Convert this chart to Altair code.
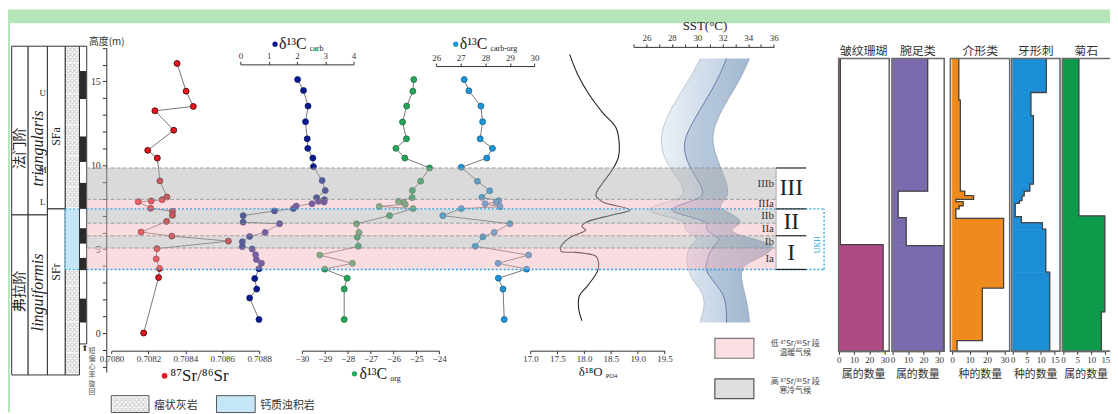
import altair as alt
import pandas as pd

W, H = 1110, 406
Y_DOM = [-2.33, 17.0]
Y_RNG = [365.3, 38.7]
SERIF = "Liberation Serif"
CJK = "Noto Sans CJK SC"
GREEN = "#b5e5b8"

# ---------------- data ----------------
sr_h = [16.07, 14.42, 13.51, 13.25, 12.09, 10.89, 10.43, 9.07, 8.11, 7.95, 7.87, 7.83, 7.44, 7.26,
        7.02, 6.65, 6.02, 5.78, 5.48, 5.03, 4.42, 3.85, 3.31, 0.0]
sr_v = [0.708355, 0.708404, 0.708443, 0.708235, 0.708337, 0.708196, 0.708248, 0.708262, 0.708300,
        0.708274, 0.708215, 0.708145, 0.708212, 0.708330, 0.708330, 0.708298, 0.708160, 0.708327,
        0.708633, 0.708246, 0.708242, 0.708260, 0.708255, 0.708174]

carb_h = [15.11, 14.46, 13.53, 12.60, 11.58, 11.01, 10.43, 9.92, 9.09, 8.50, 8.07, 7.95, 7.85, 7.81,
          7.71, 7.57, 7.42, 7.28, 7.00, 6.61, 6.51, 6.00, 5.76, 5.44, 5.15, 5.01, 4.67, 4.38, 4.16,
          3.83, 3.25, 2.62, 2.09, 0.81]
carb_v = [2.02, 2.23, 2.39, 2.30, 2.36, 2.38, 2.56, 2.58, 2.89, 3.00, 2.69, 2.97, 2.76, 2.96, 2.53,
          1.97, 1.87, 1.20, 0.09, 0.09, 1.38, 0.87, 0.32, 0.06, 0.06, 0.41, 0.53, 0.56, 0.74, 0.65,
          0.50, 0.57, 0.32, 0.65]

org_h = [15.11, 14.42, 13.53, 12.58, 11.58, 11.01, 10.43, 9.84, 9.05, 8.50, 8.07, 7.85, 7.79, 7.67,
         7.55, 7.42, 7.00, 6.51, 6.00, 5.72, 5.17, 4.65, 4.16, 3.81, 3.27, 2.62, 0.81]
org_v = [-25.11, -25.15, -25.42, -25.60, -25.43, -25.89, -25.50, -24.42, -24.81, -25.17, -25.18,
         -25.78, -25.55, -25.48, -26.62, -25.14, -26.17, -27.61, -27.50, -27.58, -27.53, -29.22,
         -27.79, -29.00, -28.02, -28.15, -28.15]

co_h = [15.11, 14.44, 13.53, 12.60, 11.58, 11.01, 10.43, 9.88, 9.05, 8.48, 8.09, 7.89, 7.81, 7.71,
        7.53, 7.42, 7.00, 6.51, 6.00, 5.74, 5.17, 4.65, 4.16, 3.81, 3.27, 2.62, 0.81]
co_v = [27.14, 27.33, 27.82, 27.89, 27.79, 28.29, 28.06, 27.02, 27.68, 28.18, 27.86, 28.55, 28.44,
        27.99, 28.60, 27.02, 26.27, 29.00, 28.36, 27.90, 27.59, 29.76, 28.52, 29.68, 28.53, 28.72, 28.77]

o18_h = [16.61, 15.42, 14.24, 13.16, 12.27, 11.48, 10.49, 9.70, 8.92, 8.22, 7.83, 7.34, 7.04, 6.59,
         6.35, 6.15, 5.66, 5.17, 4.87, 4.81, 4.58, 4.18, 3.69, 2.80, 2.21, 1.42, 0.73]
o18_v = [17.73, 17.88, 18.09, 18.34, 18.59, 18.65, 18.64, 18.52, 18.34, 18.22, 18.34, 18.86, 18.52,
         18.03, 17.96, 18.03, 17.72, 17.57, 17.57, 17.85, 18.22, 18.27, 18.25, 18.06, 17.91, 17.90, 17.96]

sst_h = [16.37, 15.03, 13.65, 12.47, 11.48, 10.49, 9.70, 8.92, 8.22, 7.93, 7.55, 7.30, 7.00, 6.75,
         6.50, 6.20, 5.90, 5.60, 5.30, 5.00, 4.60, 4.20, 3.80, 3.20, 2.40, 1.60, 0.63]
sst_l = [30.26, 29.30, 28.13, 27.35, 27.09, 27.35, 28.00, 28.78, 29.04, 28.26, 26.44, 26.05, 27.22,
         28.78, 29.04, 28.91, 29.56, 30.08, 29.56, 29.30, 29.17, 29.17, 29.30, 29.56, 30.47, 30.60, 30.21]
sst_m = [32.29, 31.58, 30.47, 29.56, 28.91, 29.04, 29.56, 30.21, 30.60, 29.82, 28.26, 27.74, 29.04,
         30.34, 30.86, 30.60, 31.12, 31.90, 31.38, 31.12, 30.86, 30.73, 30.60, 31.12, 32.03, 32.29, 32.29]
sst_r = [34.10, 33.32, 32.16, 31.38, 31.12, 31.51, 31.90, 32.36, 32.42, 32.16, 31.64, 32.16, 32.94,
         33.32, 33.45, 32.55, 32.94, 34.49, 35.92, 35.92, 35.27, 33.97, 33.45, 33.45, 33.71, 33.97, 34.10]

band_lo = [3.79, 5.07, 5.80, 6.55, 7.40, 7.97]
band_hi = [5.07, 5.80, 6.55, 7.40, 7.97, 9.84]
band_kind = ["warm", "cold", "warm", "cold", "warm", "cold"]
band_name = ["Ia", "Ib", "IIa", "IIb", "IIIa", "IIIb"]
stage_lo = [3.79, 5.80, 7.40]
stage_hi = [5.80, 7.40, 9.84]
stage_name = ["I", "II", "III"]

strat_top, strat_bot = 17.1, -2.5
stage_break, zone_break = 7.04, 7.40
cycle_bot = -0.65
cycle_black_top = [15.62, 11.72, 8.95, 6.25, 4.48, 2.05]
cycle_black_bot = [13.95, 10.20, 7.40, 5.33, 3.75, 0.63]
turbidite = [3.79, 7.40]

fossil_names = ["皱纹珊瑚", "腕足类", "介形类", "牙形刺", "菊石"]
fossil_units = ["属的数量", "属的数量", "种的数量", "种的数量", "属的数量"]
coral_edges = [16.37, 5.27, -1.08]
coral_v = [1.1, 29.0]
brach_edges = [16.37, 8.46, 6.88, 5.21, -1.08]
brach_v = [22.7, 3.6, 8.8, 33.0]
ostra_edges = [16.37, 13.89, 8.46, 8.19, 7.97, 7.83, 7.59, 7.40, 6.84, 2.68, -0.45, -1.08]
ostra_v = [3.8, 4.7, 7.2, 12.3, 2.1, 6.3, 4.0, 2.1, 29.5, 17.3, 2.8]
conod_edges = [16.37, 14.34, 12.96, 8.88, 8.46, 8.18, 7.89, 7.73, 6.94, 6.58, 6.19, 3.63, -1.08]
conod_v = [12.0, 6.5, 7.4, 6.1, 4.1, 3.3, 2.4, 0.9, 3.1, 10.6, 11.8, 13.2]
ammon_edges = [16.37, 6.98, 1.26, -1.08]
ammon_v = [5.6, 14.8, 13.6]

# ---------------- helpers ----------------
ONE = pd.DataFrame({"a": [0]})
layers = []


def ysc():
    return alt.Scale(domain=Y_DOM, range=Y_RNG, nice=False, zero=False)


def Y(field, axis=None):
    return alt.Y(field, type="quantitative", scale=ysc(), axis=axis)


def X(field, dom, rng, axis=None):
    return alt.X(field, type="quantitative",
                 scale=alt.Scale(domain=dom, range=rng, nice=False, zero=False), axis=axis)


def xaxis(orient, offset, values, fmt=None, expr=None, size=9):
    kw = dict(orient=orient, offset=offset, values=values, title=None, grid=False,
              domainColor="#333", tickColor="#333", labelColor="#333", labelFont=SERIF,
              labelFontSize=size, tickSize=3, labelPadding=1, labelFlush=False, labelOverlap=False)
    if fmt:
        kw["format"] = fmt
    if expr:
        kw["labelExpr"] = expr
    return alt.Axis(**kw)


def prect(x1, x2, y1, y2, **mk):
    return alt.Chart(ONE).mark_rect(**mk).encode(
        x=alt.value(x1), x2=alt.value(x2), y=alt.value(y1), y2=alt.value(y2))


def hrect(x1, x2, top, bot, **mk):
    df = pd.DataFrame({"top": [top], "bot": [bot]})
    return alt.Chart(df).mark_rect(**mk).encode(
        x=alt.value(x1), x2=alt.value(x2), y=Y("top"), y2=alt.Y2("bot"))


def txt(s, x, y, size=10, font=SERIF, color="#222", align="center", baseline="middle",
        angle=None, style=None, lh=None):
    kw = dict(text=s, fontSize=size, font=font, color=color, align=align, baseline=baseline)
    if angle is not None:
        kw["angle"] = angle
    if style:
        kw["fontStyle"] = style
    if lh:
        kw["lineHeight"] = lh
        kw["lineBreak"] = "\n"
    return alt.Chart(ONE).mark_text(**kw).encode(x=alt.value(x), y=alt.value(y))


def dot(x, y, color, size=28):
    return alt.Chart(ONE).mark_circle(size=size, color=color, opacity=1).encode(
        x=alt.value(x), y=alt.value(y))


# ---------------- background frame ----------------
layers.append(prect(0, W, 0, 14, color=GREEN))
layers.append(prect(0, 2, 0, H, color=GREEN))

# ---------------- stratigraphic column ----------------
col_kw = dict(fill="white", stroke="#333", strokeWidth=1)
for x1, x2 in [(3.7, 20.3), (20.3, 39.7)]:
    layers.append(hrect(x1, x2, strat_top, stage_break, **col_kw))
    layers.append(hrect(x1, x2, stage_break, strat_bot, **col_kw))
layers.append(hrect(39.7, 57.7, strat_top, zone_break, **col_kw))
layers.append(hrect(39.7, 57.7, zone_break, strat_bot, **col_kw))
layers.append(hrect(57.7, 72, strat_top, strat_bot, fill="#f7f7f7", stroke="#333", strokeWidth=1))
hatch_top = "\n".join(["○○○"] * 31)
hatch_bot = "\n".join(["○○○"] * 20)
layers.append(txt(hatch_top, 64.9, 38, size=5, font="DejaVu Sans", color="#8a8a8a",
                  baseline="top", lh=5.2))
layers.append(txt(hatch_bot, 64.9, 262.5, size=5, font="DejaVu Sans", color="#8a8a8a",
                  baseline="top", lh=5.2))
layers.append(hrect(57.7, 72, turbidite[1], turbidite[0], fill="#c4e6f6", stroke="#29a8e0",
                    strokeWidth=1, strokeDash=[2, 2]))
layers.append(hrect(72, 79.3, strat_top, cycle_bot, **col_kw))
cyc = pd.DataFrame({"top": cycle_black_top, "bot": cycle_black_bot})
layers.append(alt.Chart(cyc).mark_rect(color="#2b2b2b").encode(
    x=alt.value(72.5), x2=alt.value(78.8), y=Y("top"), y2=alt.Y2("bot")))

layers.append(txt("法门阶", 12, 140, size=14, font=CJK, angle=270))
layers.append(txt("弗拉阶", 12, 284, size=14, font=CJK, angle=270))
layers.append(txt("triangularis", 30, 140, size=16, angle=270, style="italic"))
layers.append(txt("linguiformis", 30, 285, size=16, angle=270, style="italic"))
for s, yy in [("U", 83.7), ("M", 162), ("L", 193.7)]:
    layers.append(txt(s, 35, yy, size=9))
layers.append(txt("SFa", 48.7, 128, size=12, angle=270))
layers.append(txt("SFr", 48.7, 264.5, size=12, angle=270))
layers.append(txt("⬆", 77.5, 342, size=8, font="DejaVu Sans", color="#333"))
layers.append(txt("短\n偏\n心\n率\n旋\n回", 84.7, 340, size=7, font=CJK, color="#555",
                  baseline="top", lh=8.2))

# ---------------- SST bands ----------------
sst = pd.DataFrame({"h": sst_h, "l": sst_l, "m": sst_m, "r": sst_r})
SST_DOM, SST_RNG = [25, 36], [630.2, 771.3]
light = alt.Gradient(gradient="linear", x1=0, x2=1, y1=0, y2=0,
                     stops=[alt.GradientStop(color="#f3f6fa", offset=0),
                            alt.GradientStop(color="#bfd0e2", offset=1)])
dark = alt.Gradient(gradient="linear", x1=0, x2=1, y1=0, y2=0,
                    stops=[alt.GradientStop(color="#bdcde0", offset=0),
                           alt.GradientStop(color="#8ea9c6", offset=1)])
layers.append(alt.Chart(sst).mark_area(orient="horizontal", interpolate="basis", color=light,
                                       opacity=0.95).encode(
    x=X("l", SST_DOM, SST_RNG, xaxis("top", -37.7, list(range(25, 37)),
                                    expr="datum.value % 2 == 0 ? datum.label : ''")),
    x2=alt.X2("m"), y=Y("h")))
layers.append(alt.Chart(sst).mark_area(orient="horizontal", interpolate="basis", color=dark,
                                       opacity=0.9).encode(
    x=X("m", SST_DOM, SST_RNG), x2=alt.X2("r"), y=Y("h")))
for f, c, w in [("l", "#9aaabb", 0.6), ("r", "#7f93a8", 0.6), ("m", "#4f63a3", 0.8)]:
    layers.append(alt.Chart(sst).mark_line(interpolate="basis", color=c, strokeWidth=w).encode(
        x=X(f, SST_DOM, SST_RNG), y=Y("h"), order=alt.Order("h", type="quantitative")))
layers.append(txt("SST(°C)", 702, 17, size=13))

# ---------------- d18O curve ----------------
o18 = pd.DataFrame({"h": o18_h, "v": o18_v})
layers.append(alt.Chart(o18).mark_line(interpolate="catmull-rom", color="#222",
                                       strokeWidth=1.1).encode(
    x=X("v", [17.0, 19.5], [526.3, 661.3],
        xaxis("bottom", -62.3, [17.0, 17.5, 18.0, 18.5, 19.0, 19.5], fmt=".1f")),
    y=Y("h"), order=alt.Order("h", type="quantitative")))


# ---------------- geochem series ----------------
def series(h, v, dom, rng, fill, stroke, axis):
    df = pd.DataFrame({"h": h, "v": v})
    base = alt.Chart(df)
    line = base.mark_line(color="#555", strokeWidth=0.8).encode(
        x=X("v", dom, rng, axis), y=Y("h"), order=alt.Order("h", type="quantitative"))
    pts = base.mark_circle(size=36, fill=fill, stroke=stroke, strokeWidth=0.8, opacity=1).encode(
        x=X("v", dom, rng), y=Y("h"))
    return [line, pts]


layers += series(sr_h, sr_v, [0.7080, 0.7088], [104.3, 253.0], "#e8161e", "#3a0000",
                 xaxis("bottom", -62.3, [0.7080, 0.7082, 0.7084, 0.7086, 0.7088], fmt=".4f"))
layers += series(carb_h, carb_v, [0, 4], [234.3, 348.0], "#0b1a8f", "#0b1a60",
                 xaxis("top", -55.3, [0, 1, 2, 3, 4]))
layers += series(org_h, org_v, [-30, -24], [296.0, 434.3], "#25a55a", "#1b6e3c",
                 xaxis("bottom", -62.3, [-30, -29, -28, -27, -26, -25, -24]))
layers += series(co_h, co_v, [26, 30], [431.3, 530.3], "#1e95d6", "#14608c",
                 xaxis("top", -57.0, [26, 27, 28, 29, 30]))

# height axis
hax = alt.Axis(orient="left", offset=-99, values=list(range(-2, 18)), grid=False,
               labelExpr="datum.value % 5 == 0 ? datum.label : ''", labelFont=SERIF,
               labelFontSize=10, labelColor="#333", tickColor="#333", domainColor="#333",
               tickSize=4, labelPadding=2, title="高度(m)", titleAngle=0, titleX=0, titleY=32,
               titleAlign="center", titleBaseline="middle", titleFont=CJK, titleFontSize=10,
               titleFontWeight="normal", titleColor="#333")
layers.append(alt.Chart(pd.DataFrame({"h": [0.0]})).mark_point(opacity=0).encode(
    x=alt.value(99), y=Y("h", hax)))

# ---------------- climate bands ----------------
bands = pd.DataFrame({"lo": band_lo, "hi": band_hi, "kind": band_kind, "name": band_name,
                      "mid": [(a + b) / 2 for a, b in zip(band_lo, band_hi)]})
layers.append(alt.Chart(bands).mark_rect(opacity=0.45).encode(
    x=alt.value(79.3), x2=alt.value(773.7), y=Y("lo"), y2=alt.Y2("hi"),
    color=alt.Color("kind:N", scale=alt.Scale(domain=["warm", "cold"],
                                              range=["#f4b3bc", "#acacac"]), legend=None)))
dash_h = pd.DataFrame({"h": [5.07, 5.80, 6.55, 7.97, 9.84]})
layers.append(alt.Chart(dash_h).mark_rule(color="#8d8d8d", strokeWidth=0.8,
                                          strokeDash=[4, 2]).encode(
    x=alt.value(79.3), x2=alt.value(773.7), y=Y("h")))
blue_h = pd.DataFrame({"h": turbidite})
layers.append(alt.Chart(blue_h).mark_rule(color="#29a8e0", strokeWidth=1.4,
                                          strokeDash=[2, 2]).encode(
    x=alt.value(79.3), x2=alt.value(822), y=Y("h")))
layers.append(alt.Chart(pd.DataFrame({"a": [turbidite[0]], "b": [turbidite[1]]})).mark_rule(
    color="#29a8e0", strokeWidth=1.4, strokeDash=[2, 2]).encode(
    x=alt.value(822), y=Y("a"), y2=alt.Y2("b")))
layers.append(txt("UKH", 816, 237, size=8, color="#29a8e0", angle=270))
layers.append(alt.Chart(pd.DataFrame({"a": [3.79], "b": [9.84]})).mark_rule(
    color="#999", strokeWidth=0.8).encode(x=alt.value(773.7), y=Y("a"), y2=alt.Y2("b")))
layers.append(alt.Chart(pd.DataFrame({"h": [9.84, 7.40, 5.80, 3.79]})).mark_rule(
    color="#222", strokeWidth=1.2).encode(x=alt.value(773.7), x2=alt.value(804), y=Y("h")))
layers.append(alt.Chart(bands).mark_text(align="right", baseline="middle", font=SERIF,
                                         fontSize=11, color="#333").encode(
    x=alt.value(771.5), y=Y("mid"), text="name:N"))
stages = pd.DataFrame({"name": stage_name,
                       "mid": [(a + b) / 2 for a, b in zip(stage_lo, stage_hi)]})
layers.append(alt.Chart(stages).mark_text(align="center", baseline="middle", font=SERIF,
                                          fontSize=24, color="#222").encode(
    x=alt.value(789), y=Y("mid"), text="name:N"))

# ---------------- titles of series ----------------
layers.append(dot(269, 35, "#0b1a8f"))
layers.append(txt("δ¹³C", 273, 35, size=16, align="left"))
layers.append(txt("carb", 304, 39.5, size=8, align="left"))
layers.append(dot(451, 35, "#1e95d6"))
layers.append(txt("δ¹³C", 455, 35, size=16, align="left"))
layers.append(txt("carb-org", 486, 39.5, size=8, align="left"))
layers.append(dot(157.7, 369, "#e8161e", size=34))
layers.append(txt("⁸⁷Sr/⁸⁶Sr", 163.5, 369, size=17, align="left"))
layers.append(dot(349, 367, "#25a55a"))
layers.append(txt("δ¹³C", 354, 367, size=16, align="left"))
layers.append(txt("org", 385, 372, size=8, align="left"))
layers.append(txt("δ¹⁸O", 575, 365, size=13, align="left"))
layers.append(txt("PO4", 602, 369, size=6.5, align="left"))

# ---------------- legends ----------------
layers.append(prect(712, 751.3, 331.3, 351.3, fill="#fbdfe3", stroke="#777", strokeWidth=1.2))
layers.append(prect(712, 751.3, 372, 392, fill="#dedede", stroke="#555", strokeWidth=1.2))
layers.append(txt("低 ⁸⁷Sr/⁸⁶Sr 段\n温暖气候", 793, 332.5, size=8, font=CJK, color="#444",
                  baseline="top", lh=9.6))
layers.append(txt("高 ⁸⁷Sr/⁸⁶Sr 段\n寒冷气候", 793, 370.8, size=8, font=CJK, color="#444",
                  baseline="top", lh=9.6))
layers.append(prect(104, 142, 389, 406, fill="#f7f7f7", stroke="#555", strokeWidth=1))
layers.append(txt("○○○○○○○○\n○○○○○○○○\n○○○○○○○○", 123, 390.5, size=5,
                  font="DejaVu Sans", color="#8a8a8a", baseline="top", lh=5.2))
layers.append(txt("瘤状灰岩", 147, 399, size=11, font=CJK, align="left", color="#333"))
layers.append(prect(210, 249, 389, 406, fill="#c4e6f6", stroke="#555", strokeWidth=1))
layers.append(txt("钙质浊积岩", 254, 399, size=11, font=CJK, align="left", color="#333"))

# ---------------- fossil panels ----------------
panels = [
    (coral_edges, coral_v, [0, 30], [836.7, 883.0], "#ae4a86", 0, 33.0, [0, 10, 20, 30]),
    (brach_edges, brach_v, [0, 30], [891.0, 937.7], "#7b6aae", -0.4, 33.4, [0, 10, 20, 30]),
    (ostra_edges, ostra_v, [0, 30], [951.0, 1003.7], "#ef8a1d", -1.0, 33.0, [0, 10, 20, 30]),
    (conod_edges, conod_v, [0, 15], [1012.0, 1054.3], "#1b8ed6", -0.35, 16.9, [0, 5, 10, 15]),
    (ammon_edges, ammon_v, [0, 15], [1062.7, 1105.3], "#0b9b4b", -0.25, 17.5, [0, 5, 10, 15]),
]
for i, (edges, vals, dom, rng, color, fmin, fmax, ticks) in enumerate(panels):
    tops, bots = edges[:-1], edges[1:]
    df = pd.DataFrame({"top": tops, "bot": bots, "v": vals, "z": [0.0] * len(vals)})
    layers.append(alt.Chart(df).mark_rect(color=color, stroke=color, strokeWidth=0.6).encode(
        x=X("z", dom, rng, xaxis("bottom", -61.7, ticks, size=9)), x2=alt.X2("v"),
        y=Y("top"), y2=alt.Y2("bot")))
    pts = []
    for k, (t, b, v) in enumerate(zip(tops, bots, vals)):
        pts.append({"o": 2 * k, "v": v, "h": t})
        pts.append({"o": 2 * k + 1, "v": v, "h": b})
    layers.append(alt.Chart(pd.DataFrame(pts)).mark_line(color="#444", strokeWidth=1.3).encode(
        x=X("v", dom, rng), y=Y("h"), order=alt.Order("o", type="quantitative")))
    fr = pd.DataFrame({"a": [fmin], "b": [fmax], "t": [edges[0]], "bt": [edges[-1]]})
    layers.append(alt.Chart(fr).mark_rect(fillOpacity=0, stroke="#6a6a6a", strokeWidth=1.6).encode(
        x=X("a", dom, rng), x2=alt.X2("b"), y=Y("t"), y2=alt.Y2("bt")))
    cx = (rng[0] + rng[1]) / 2
    layers.append(txt(fossil_names[i], cx + 2, 42, size=12, font=CJK, color="#333"))
    layers.append(txt(fossil_units[i], cx + 2, 368.5, size=11, font=CJK, color="#333"))

chart = alt.layer(*layers).resolve_scale(x="independent", y="shared").resolve_axis(
    x="independent", y="independent").properties(
    width=W, height=H, autosize=alt.AutoSizeParams(type="none"), padding=0
).configure_view(stroke=None)

chart.save("out.html", embed_options={"renderer": "svg", "actions": False})
